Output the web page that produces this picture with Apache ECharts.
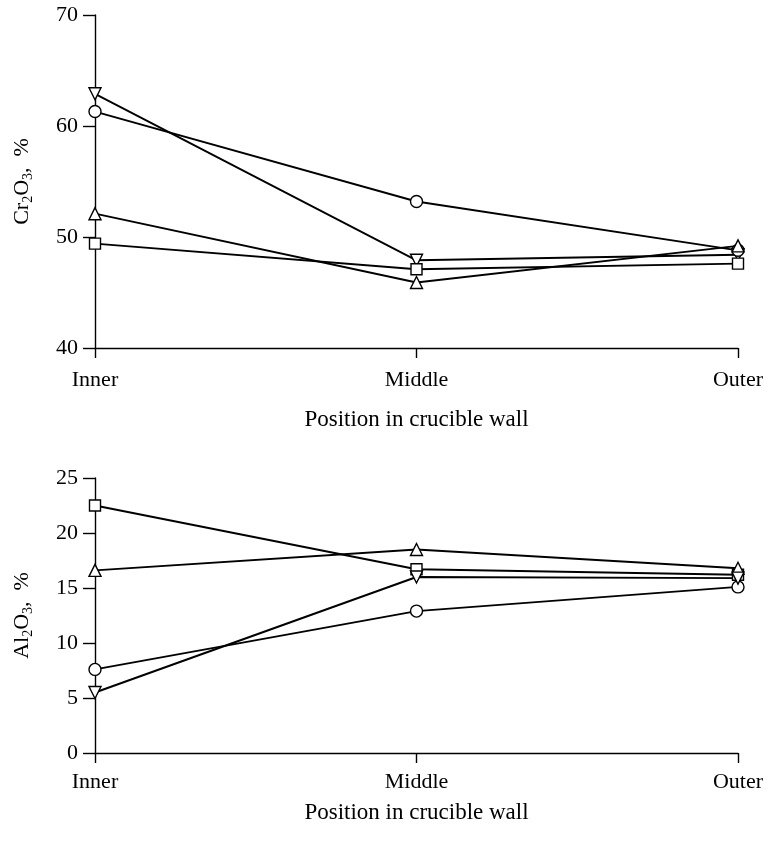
<!DOCTYPE html>
<html>
<head>
<meta charset="utf-8">
<script src="https://cdn.jsdelivr.net/npm/echarts@6/dist/echarts.min.js"></script>
<style>html,body{margin:0;padding:0;background:#fff}#c{width:779px;height:843px}</style>
</head>
<body>
<div id="c"></div>
<script>
const categories = ['Inner', 'Middle', 'Outer'];
// Cr2O3 (top panel)
const crDown = [62.9, 47.9, 48.4];
const crCircle = [61.3, 53.2, 48.8];
const crUp = [52.1, 45.9, 49.2];
const crSquare = [49.4, 47.1, 47.6];
// Al2O3 (bottom panel)
const alSquare = [22.5, 16.7, 16.2];
const alUp = [16.6, 18.5, 16.8];
const alCircle = [7.6, 12.9, 15.1];
const alDown = [5.5, 16.0, 15.9];
const crTicks = {min: 40, max: 70, interval: 10};
const alTicks = {min: 0, max: 25, interval: 5};

const FONT = '"Liberation Serif", "DejaVu Serif", serif';
const chart = echarts.init(document.getElementById('c'));

function xAx(gridIndex, margin, nameGap) {
  return {
    type: 'category', gridIndex, data: categories, boundaryGap: false,
    axisLine: {lineStyle: {color: '#000', width: 1.4}},
    axisTick: {show: true, length: 10, inside: false, lineStyle: {color: '#000', width: 1.4}},
    axisLabel: {color: '#000', fontFamily: FONT, fontSize: 22, margin},
    name: 'Position in crucible wall', nameLocation: 'middle', nameGap,
    nameTextStyle: {color: '#000', fontFamily: FONT, fontSize: 23},
    splitLine: {show: false}
  };
}
function yAx(gridIndex, t, nameTxt) {
  return {
    type: 'value', gridIndex, min: t.min, max: t.max, interval: t.interval,
    axisLine: {show: true, lineStyle: {color: '#000', width: 1.4}},
    axisTick: {show: true, length: 12, lineStyle: {color: '#000', width: 1.4}},
    axisLabel: {color: '#000', fontFamily: FONT, fontSize: 22, margin: 17},
    splitLine: {show: false},
    name: nameTxt, nameLocation: 'middle', nameGap: 60, nameRotate: 90,
    nameTextStyle: {
      color: '#000', fontFamily: FONT, fontSize: 22,
      rich: {
        a: {fontFamily: FONT, fontSize: 22, color: '#000', lineHeight: 26},
        s: {fontFamily: FONT, fontSize: 14, color: '#000', lineHeight: 26, verticalAlign: 'bottom', padding: [9, 0, 0, 0]}
      }
    }
  };
}
function ser(idx, data, symbol, rotate) {
  return {
    type: 'line', xAxisIndex: idx, yAxisIndex: idx, data,
    symbol, symbolSize: symbol === 'rect' ? 11 : 12, symbolRotate: rotate || 0,
    showAllSymbol: true,
    lineStyle: {color: '#000', width: 1.9},
    itemStyle: {color: '#fff', borderColor: '#000', borderWidth: 1.4},
    z: 3, animation: false
  };
}

chart.setOption({
  animation: false,
  backgroundColor: '#fff',
  grid: [
    {left: 95, right: 41, top: 15, height: 333},
    {left: 95, right: 41, top: 478, height: 275}
  ],
  xAxis: [xAx(0, 21, 60), xAx(1, 18, 48)],
  yAxis: [
    yAx(0, crTicks, '{a|Cr}{s|2}{a|O}{s|3}{a|,  %}'),
    yAx(1, alTicks, '{a|Al}{s|2}{a|O}{s|3}{a|,  %}')
  ],
  series: [
    ser(0, crDown, 'triangle', 180),
    ser(0, crCircle, 'circle'),
    ser(0, crUp, 'triangle'),
    ser(0, crSquare, 'rect'),
    ser(1, alSquare, 'rect'),
    ser(1, alUp, 'triangle'),
    ser(1, alCircle, 'circle'),
    ser(1, alDown, 'triangle', 180)
  ]
});
</script>
</body>
</html>
